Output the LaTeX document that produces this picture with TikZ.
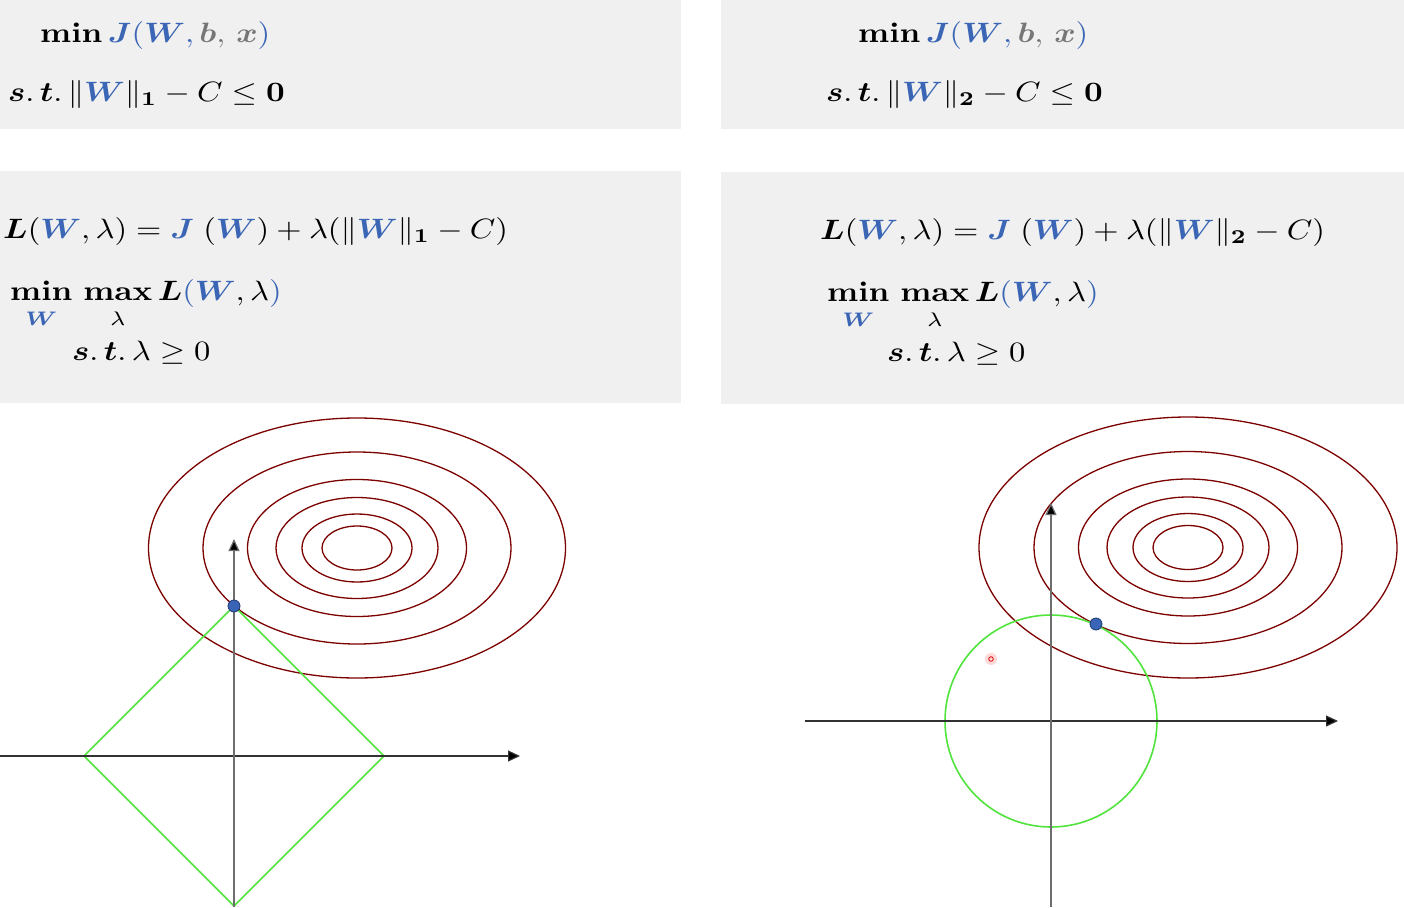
\documentclass[tikz,border=0pt]{standalone}
\usepackage{graphicx}
\usepackage{amsmath,amssymb,bm}
\usetikzlibrary{arrows.meta}
\definecolor{panel}{RGB}{240,240,240}
\definecolor{wblue}{RGB}{59,102,181}
\definecolor{xgray}{RGB}{118,118,118}
\definecolor{contour}{RGB}{125,0,0}
\definecolor{cgreen}{RGB}{80,228,60}
\definecolor{dotblue}{RGB}{58,100,182}
\definecolor{dotedge}{RGB}{30,58,115}
\definecolor{axisv}{RGB}{110,110,110}
\definecolor{axish}{RGB}{50,50,50}
\newcommand{\BW}{{\color{wblue}\boldsymbol{W}}}
\newcommand{\BJ}{{\color{wblue}\boldsymbol{J}}}
\newcommand{\eqbig}[1]{\scalebox{3.25}[2.8]{#1}}
\newcommand{\st}{\boldsymbol{s}.\,\boldsymbol{t}.\,}
\newcommand{\lowsub}{\rule{0pt}{7.5pt}}
\tikzset{
  panelbox/.style={fill=panel, draw=none},
  eq/.style={anchor=base west, inner sep=0pt},
  level/.style={draw=contour, line width=1.3pt},
  constraint/.style={draw=cgreen, line width=1.6pt},
  vaxis/.style={draw=axisv, line width=1.2pt, -{Triangle[length=12pt,width=11pt,fill=black]}},
  haxis/.style={draw=axish, line width=1.2pt, -{Triangle[length=12pt,width=11pt,fill=black]}},
  optdot/.style={circle, fill=dotblue, draw=dotedge, line width=0.8pt, inner sep=0pt, minimum size=12pt},
}
\begin{document}
\begin{tikzpicture}[x=1pt,y=-1pt]
\useasboundingbox[fill=white] (0,0) rectangle (1404,907);
% panels
\path[panelbox] (0,0) rectangle (681,129);
\path[panelbox] (721,0) rectangle (1404,129);
\path[panelbox] (0,171) rectangle (681,403);
\path[panelbox] (721,172) rectangle (1404,404);
% top-left
\node[eq] (tl1) at (40,43) {\eqbig{$\mathbf{min}\,{\color{wblue}\boldsymbol{J}(\boldsymbol{W},\,}{\color{xgray}\boldsymbol{b},\,\boldsymbol{x}}{\color{wblue})}$}};
\node[eq] (tl2) at (8,101) {\eqbig{$\st\|\BW\|_{\mathbf{1}}-C\le\mathbf{0}$}};
% top-right
\node[eq] (tr1) at (858,43) {\eqbig{$\mathbf{min}\,{\color{wblue}\boldsymbol{J}(\boldsymbol{W},\,}{\color{xgray}\boldsymbol{b},\,\boldsymbol{x}}{\color{wblue})}$}};
\node[eq] (tr2) at (826,101) {\eqbig{$\st\|\BW\|_{\mathbf{2}}-C\le\mathbf{0}$}};
% middle-left
\node[eq] (ml1) at (3,238) {\eqbig{$\boldsymbol{L}(\BW,\lambda)=\BJ\;(\BW)+\lambda(\|\BW\|_{\mathbf{1}}-C)$}};
\node[eq] (ml2) at (10,300) {\eqbig{$\displaystyle\mathop{\mathbf{min}}\limits_{\lowsub\BW}\,\mathop{\mathbf{max}}\limits_{\lowsub\lambda}\boldsymbol{L}{\color{wblue}(}\BW,\lambda{\color{wblue})}$}};
\node[eq] (ml3) at (72,360) {\eqbig{$\st\lambda\ge0$}};
% middle-right
\node[eq] (mr1) at (820,239) {\eqbig{$\boldsymbol{L}(\BW,\lambda)=\BJ\;(\BW)+\lambda(\|\BW\|_{\mathbf{2}}-C)$}};
\node[eq] (mr2) at (827,301) {\eqbig{$\displaystyle\mathop{\mathbf{min}}\limits_{\lowsub\BW}\,\mathop{\mathbf{max}}\limits_{\lowsub\lambda}\boldsymbol{L}{\color{wblue}(}\BW,\lambda{\color{wblue})}$}};
\node[eq] (mr3) at (887,361) {\eqbig{$\st\lambda\ge0$}};

% ---------- left plot (L1) ----------
\coordinate (lo) at (234,756);
\coordinate (lxs) at (0,756);
\coordinate (lxe) at (520,756);
\coordinate (lys) at (234,907);
\coordinate (lye) at (234,539);
\coordinate (lc) at (357,548);
\foreach \rx/\ry in {208.5/130, 154/96, 109.5/68.5, 81/50.5, 55/34, 35/22}
  \draw[level] (lc) ellipse [x radius=\rx, y radius=\ry];
\draw[constraint] (84,756) coordinate (dl) -- (234,606) coordinate (dt) -- (384,756) coordinate (dr) -- (234,906) coordinate (db) -- cycle;
\draw[haxis] (lxs) -- (lxe);
\draw[vaxis] (lys) -- (lye);
\node[optdot] (ldot) at (234,606) {};

% ---------- right plot (L2) ----------
\coordinate (ro) at (1051,721);
\coordinate (rxs) at (805,721);
\coordinate (rxe) at (1338,721);
\coordinate (rys) at (1051,907);
\coordinate (rye) at (1051,503);
\coordinate (rc) at (1188,547.5);
\foreach \rx/\ry in {209/130.5, 154/96, 109.5/68.5, 81/50.5, 55/34, 35/22}
  \draw[level] (rc) ellipse [x radius=\rx, y radius=\ry];
\draw[constraint] (ro) circle [radius=106];
\draw[haxis] (rxs) -- (rxe);
\draw[vaxis] (rys) -- (rye);
\node[optdot] (rdot) at (1096,624) {};
% cursor mark
\fill[red!25, opacity=0.6] (991,659) circle [radius=6];
\draw[red!85!black, line width=0.8pt] (991,659) circle [radius=2.3];
\end{tikzpicture}
\end{document}
